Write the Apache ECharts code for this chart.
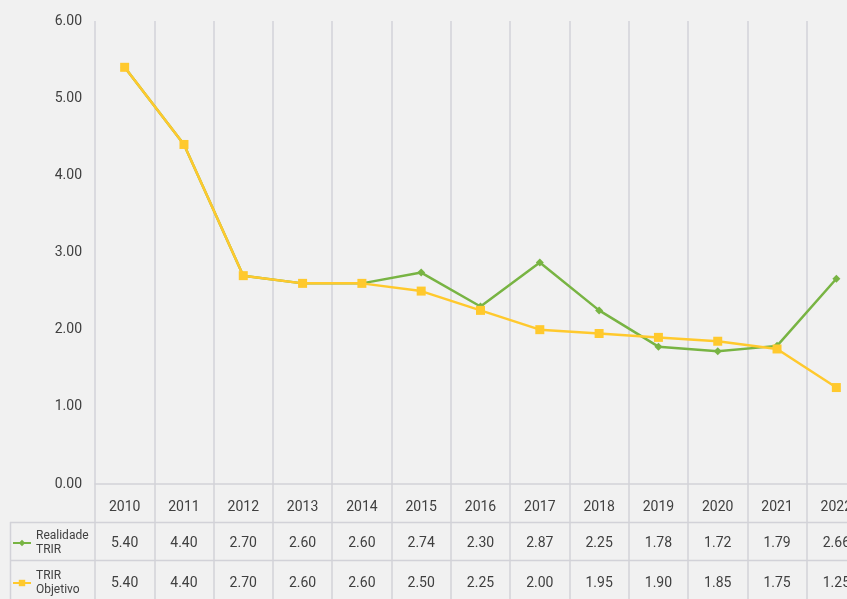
<!DOCTYPE html>
<html><head><meta charset="utf-8">
<script src="https://cdn.jsdelivr.net/npm/echarts@6/dist/echarts.min.js"></script>
<style>html,body{margin:0;padding:0;background:#f1f1f1;overflow:hidden;width:847px;height:599px}#c{width:866px;height:599px}</style>
</head><body><div id="c"></div>
<script>
const years = ['2010','2011','2012','2013','2014','2015','2016','2017','2018','2019','2020','2021','2022'];
const realidade = [5.40,4.40,2.70,2.60,2.60,2.74,2.30,2.87,2.25,1.78,1.72,1.79,2.66];
const objetivo = [5.40,4.40,2.70,2.60,2.60,2.50,2.25,2.00,1.95,1.90,1.85,1.75,1.25];
const seriesNames = ['Realidade\nTRIR','TRIR\nObjetivo'];
const yTicks = {min:0, max:6, interval:1};

const chart = echarts.init(document.getElementById('c'), null, {renderer:'canvas'});
const txt = '#404040', gridC = '#d2d2d8', FONT = 'Roboto';
const GREEN = '#78b443', YELLOW = '#ffc92d';
function extraAxis(arr, margin){
  return {type:'category', position:'bottom', data: years, boundaryGap:true,
    axisLine:{show:false}, axisTick:{show:false}, splitLine:{show:false},
    axisLabel:{margin: margin, verticalAlign:'middle', color:txt, fontSize:14, fontFamily:FONT,
      formatter:(v,i)=>arr[i].toFixed(2), interval:0}};
}
chart.setOption({
  backgroundColor:'#f1f1f1',
  animation:false,
  grid:{left:95, top:21, right:0, height:463, containLabel:false},
  legend:{orient:'vertical', left:12, top:529, padding:0, itemWidth:18, itemHeight:8, itemGap:12,
    textStyle:{color:txt, fontSize:12, lineHeight:14, fontFamily:FONT},
    data: seriesNames},
  xAxis:[
    {type:'category', data:years, boundaryGap:true, position:'bottom',
      axisLine:{show:true, lineStyle:{color:gridC, width:1.5}},
      axisTick:{show:true, length:115, lineStyle:{color:gridC, width:1.5}},
      splitLine:{show:true, lineStyle:{color:gridC, width:1.5}},
      axisLabel:{margin:23, verticalAlign:'middle', color:txt, fontSize:14, fontFamily:FONT, interval:0}},
    extraAxis(realidade, 59),
    extraAxis(objetivo, 99)
  ],
  yAxis:{type:'value', min:yTicks.min, max:yTicks.max, interval:yTicks.interval,
    axisLine:{show:false}, axisTick:{show:false}, splitLine:{show:false},
    axisLabel:{margin:13, color:txt, fontSize:14, fontFamily:FONT, formatter:v=>v.toFixed(2)}},
  graphic:[
    {type:'line', shape:{x1:10,y1:522.5,x2:866,y2:522.5}, style:{stroke:gridC, lineWidth:1.5}, silent:true},
    {type:'line', shape:{x1:10,y1:560.5,x2:866,y2:560.5}, style:{stroke:gridC, lineWidth:1.5}, silent:true},
    {type:'line', shape:{x1:10.5,y1:522,x2:10.5,y2:599}, style:{stroke:gridC, lineWidth:1.5}, silent:true}
  ],
  series:[
    {name:seriesNames[0], type:'line', data:realidade, xAxisIndex:0, symbol:'diamond', symbolSize:8,
      itemStyle:{color:GREEN}, lineStyle:{color:GREEN, width:2.5}, z:2},
    {name:seriesNames[1], type:'line', data:objetivo, xAxisIndex:0, symbol:'rect', symbolSize:9,
      itemStyle:{color:YELLOW}, lineStyle:{color:YELLOW, width:2.5}, z:3}
  ]
});
</script></body></html>
